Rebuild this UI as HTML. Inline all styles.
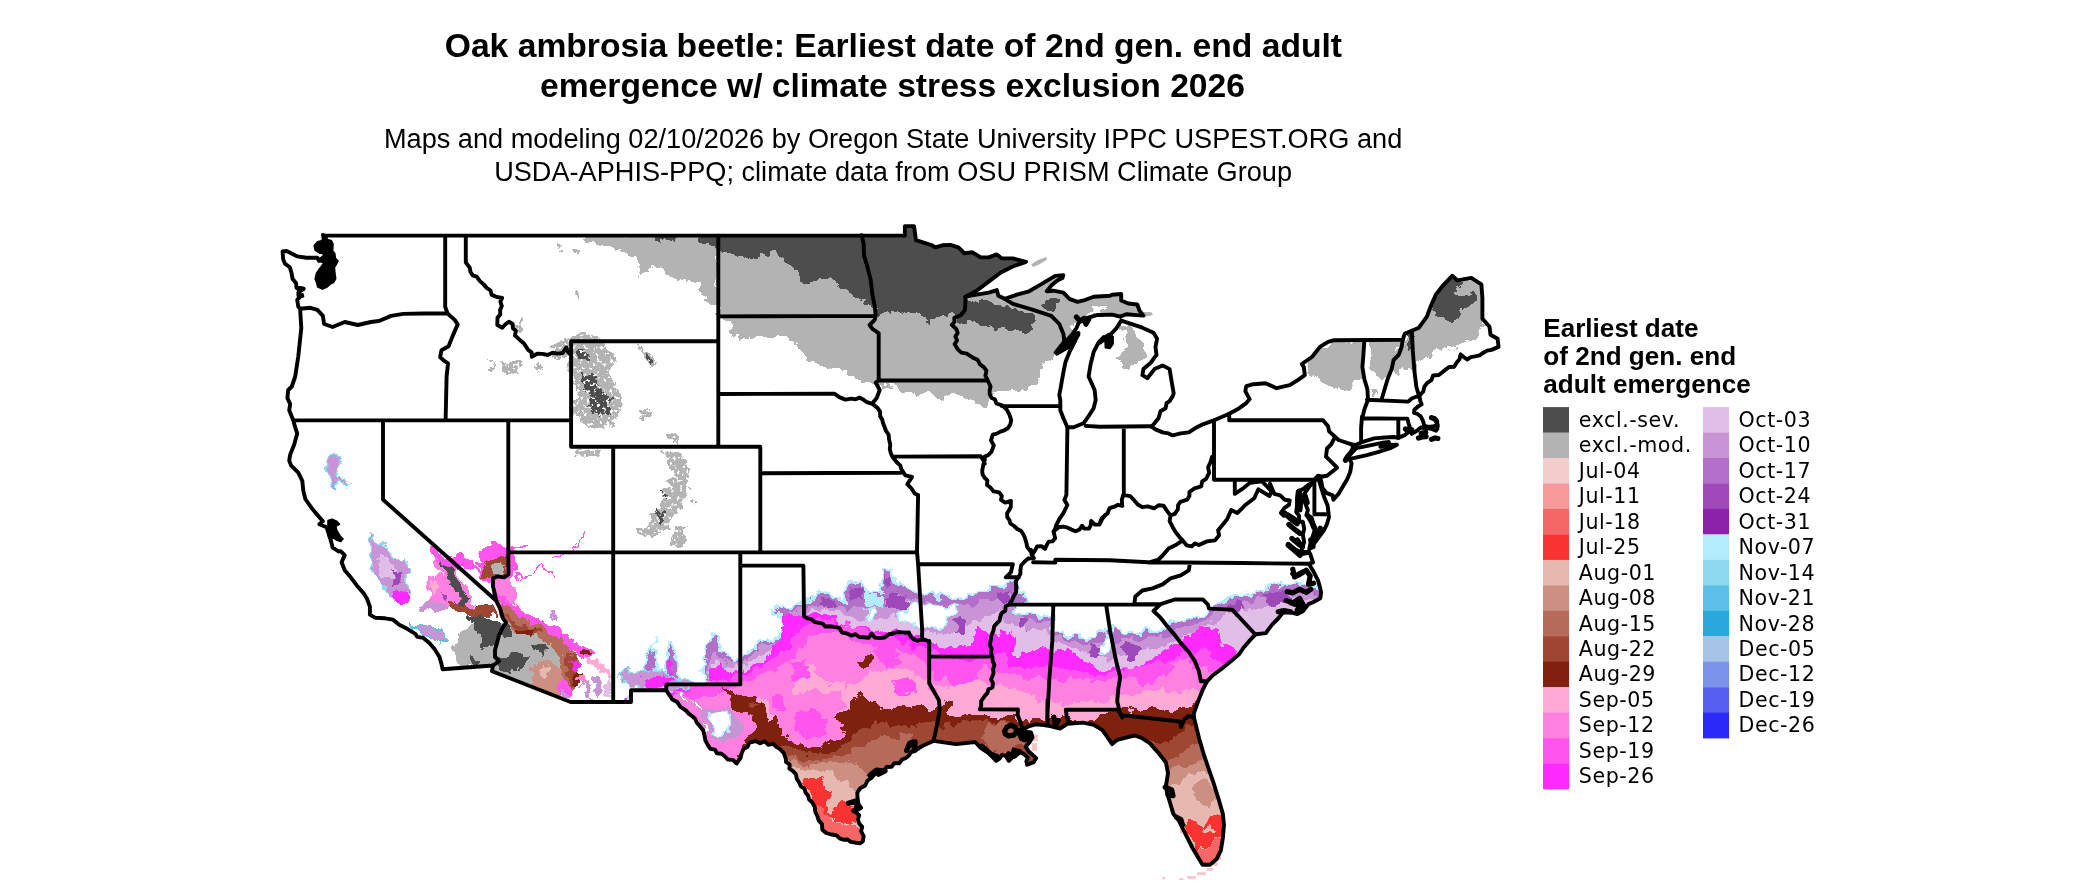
<!DOCTYPE html>
<html lang="en"><head><meta charset="utf-8"><title>Oak ambrosia beetle: Earliest date of 2nd gen. end adult emergence</title>
<style>
html,body{margin:0;padding:0;background:#fff;}
body{width:2100px;height:892px;overflow:hidden;position:relative;font-family:"Liberation Sans",Arial,sans-serif;color:#000;}
svg{position:absolute;left:0;top:0;display:block;}
.ti{font:bold 33.65px "Liberation Sans",Arial,sans-serif;text-anchor:middle;fill:#000;}
.su{font:27.15px "Liberation Sans",Arial,sans-serif;text-anchor:middle;fill:#000;}
.lt{font:bold 26.1px "Liberation Sans",Arial,sans-serif;fill:#000;}
.lb{font:20.6px "DejaVu Sans","Liberation Sans",sans-serif;fill:#000;letter-spacing:0.55px;}
.bd{fill:none;stroke:#000;stroke-width:3.9;stroke-linejoin:round;stroke-linecap:round;}
</style></head><body>
<svg width="2100" height="892" viewBox="0 0 2100 892">
<rect width="2100" height="892" fill="#fff"/>
<defs><clipPath id="us"><path d="M324.1,235.6 904.9,235.6 904.9,226.1 914.0,226.1 916.0,240.2 922.1,242.2 932.2,245.3 935.2,247.3 942.3,245.3 950.3,244.9 958.4,247.3 964.5,253.3 972.5,252.3 980.6,257.4 988.7,257.4 996.8,254.4 1001.8,258.4 1012.9,258.4 1026.0,261.8 1012.9,266.5 1000.8,272.5 988.7,281.6 976.6,290.7 965.5,296.7 976.6,294.7 988.7,292.7 996.8,290.1 998.4,295.7 1004.8,298.8 1016.9,294.7 1029.1,291.3 1037.1,286.6 1047.2,280.6 1055.3,275.9 1063.4,275.1 1062.4,278.0 1057.3,280.6 1051.3,285.6 1046.8,291.3 1053.3,290.7 1063.4,292.7 1069.4,298.8 1077.5,301.8 1085.6,299.8 1093.6,296.7 1110.0,295.7 1112.1,294.8 1121.2,294.0 1121.2,300.5 1128.3,303.5 1137.3,304.5 1139.4,310.5 1143.4,315.6 1126.2,314.2 1120.2,316.6 1112.1,314.6 1100.0,315.0 1097.7,314.9 1085.6,318.3 1079.5,321.0 1076.5,328.0 1072.4,334.1 1067.4,340.1 1064.4,341.1 1060.3,347.2 1056.3,352.2 1063.4,347.2 1071.4,340.1 1078.5,333.1 1074.5,342.1 1069.4,352.2 1065.4,362.3 1063.0,374.4 1060.9,386.5 1059.3,395.0 1060.3,400.1 1060.3,410.2 1063.4,418.3 1067.4,427.3 1073.5,427.3 1083.5,423.3 1088.6,416.2 1093.6,408.2 1095.7,400.1 1094.6,390.0 1088.6,376.5 1090.6,364.3 1093.6,352.2 1098.7,342.1 1103.7,337.1 1100.0,342.8 1104.0,339.8 1110.1,334.8 1116.1,328.7 1121.2,320.6 1130.3,323.7 1142.4,327.7 1153.5,332.7 1157.1,338.8 1155.5,346.9 1156.5,354.9 1150.5,363.0 1143.4,369.1 1142.4,375.1 1147.4,378.2 1154.5,369.1 1162.6,365.4 1169.6,369.1 1171.6,381.2 1173.7,393.3 1172.7,396.1 1169.6,401.1 1166.6,403.1 1165.6,408.2 1160.5,411.2 1158.5,418.3 1154.5,423.3 1151.5,426.7 1155.5,429.4 1162.6,432.4 1168.6,433.4 1172.7,435.4 1180.7,433.4 1188.8,432.4 1194.9,428.3 1202.9,424.3 1213.0,420.7 1221.1,417.2 1229.2,413.8 1239.3,408.2 1246.3,403.1 1249.7,399.1 1245.3,391.3 1246.3,386.2 1253.4,384.2 1265.5,383.2 1276.6,388.2 1289.7,385.2 1297.8,380.2 1304.8,375.1 1303.8,367.1 1301.8,364.0 1311.9,357.0 1320.0,346.9 1328.1,341.8 1334.1,340.2 1402.7,339.8 1404.7,333.8 1411.8,330.7 1418.9,327.7 1426.9,316.6 1431.0,305.5 1436.0,294.4 1443.1,285.3 1452.2,275.8 1457.2,280.3 1471.3,277.9 1481.4,284.3 1482.4,298.4 1482.4,318.6 1489.5,326.7 1490.5,334.8 1497.6,338.8 1498.6,346.9 1491.5,349.9 1487.2,350.6 1483.4,352.7 1479.6,355.3 1475.0,356.3 1470.8,357.1 1467.1,359.5 1464.0,357.2 1460.6,354.4 1459.5,359.3 1456.5,362.7 1454.1,366.9 1449.1,367.0 1443.3,371.4 1438.8,375.0 1433.1,375.5 1431.4,380.2 1427.0,383.2 1424.3,386.9 1423.3,391.5 1419.4,395.8 1419.4,396.2 1420.3,401.1 1421.6,404.3 1418.0,406.5 1414.4,409.7 1414.0,412.8 1417.1,413.7 1420.7,416.4 1423.0,420.9 1424.3,425.8 1428.8,427.0 1434.2,426.1 1436.9,424.3 1437.3,421.6 1435.1,418.6 1431.5,417.5 1435.2,419.5 1436.7,422.2 1437.8,424.9 1437.3,428.9 1436.0,430.7 1429.7,428.2 1425.2,428.7 1421.2,427.3 1418.0,429.8 1414.4,432.4 1411.7,433.9 1410.4,430.7 1409.1,427.6 1408.2,429.8 1406.8,433.4 1404.6,435.2 1402.8,435.9 1398.3,437.9 1393.8,437.0 1384.8,437.5 1374.1,438.4 1366.9,440.6 1361.1,442.4 1355.7,444.9 1351.6,444.4 1353.1,447.3 1350.2,453.1 1345.8,458.2 1349.4,458.9 1351.6,463.3 1350.2,472.1 1347.2,479.3 1342.9,486.6 1338.5,493.9 1333.4,499.7 1332.7,495.4 1326.8,493.2 1322.5,488.1 1321.0,480.1 1318.8,477.2 1319.5,482.3 1321.7,489.5 1324.6,498.3 1327.6,505.6 1328.3,511.4 1329.0,517.2 1326.8,524.5 1323.9,530.4 1319.5,536.2 1315.2,542.0 1311.5,547.8 1309.3,549.0 1310.8,542.0 1313.7,533.3 1315.2,527.4 1313.7,524.5 1311.5,517.2 1306.4,515.1 1307.9,510.0 1305.0,502.7 1304.2,493.9 1309.3,486.6 1313.7,482.0 1307.9,485.2 1303.5,488.8 1297.7,491.7 1297.0,498.3 1297.0,505.6 1296.2,512.1 1299.1,515.8 1299.1,521.6 1302.8,521.6 1304.2,528.9 1302.8,534.7 1304.2,542.0 1301.3,550.8 1305.0,552.2 1310.1,553.7 1313.0,562.4 1308.9,563.8 1313.9,572.3 1318.0,580.4 1320.0,587.4 1321.1,592.7 1320.3,598.3 1313.0,602.2 1308.5,604.1 1302.9,611.2 1297.3,614.0 1290.6,612.3 1282.7,612.9 1278.2,618.5 1272.6,624.1 1268.1,629.7 1265.9,633.1 1255.8,634.2 1249.3,640.9 1243.3,648.0 1239.3,654.0 1231.2,661.1 1221.1,669.2 1213.0,675.2 1207.0,681.3 1202.9,689.3 1198.9,699.4 1195.9,707.5 1193.8,713.6 1193.9,717.2 1196.0,725.8 1199.2,738.8 1203.6,753.8 1207.9,766.7 1213.2,781.8 1218.6,799.0 1222.9,814.1 1224.0,824.9 1222.9,837.8 1220.8,850.7 1216.5,859.3 1210.0,864.7 1202.5,864.7 1199.2,859.3 1192.8,848.5 1187.4,837.8 1182.0,827.0 1178.8,820.6 1173.4,814.1 1170.2,803.3 1167.0,792.6 1165.9,786.1 1168.0,773.2 1165.9,762.4 1158.3,752.7 1149.7,743.1 1141.1,737.7 1134.7,735.5 1126.0,737.7 1117.4,739.8 1112.1,744.1 1107.8,737.7 1102.4,730.1 1093.8,724.8 1083.0,722.6 1067.9,723.7 1060.0,728.5 1051.3,726.4 1043.9,725.1 1035.9,724.4 1028.5,726.4 1024.4,728.5 1023.1,730.5 1027.1,731.8 1031.1,732.5 1032.5,737.2 1029.8,741.9 1025.8,746.6 1028.5,751.3 1033.2,755.4 1036.2,758.1 1033.8,762.1 1027.1,764.8 1026.4,761.4 1027.8,757.4 1023.7,754.0 1017.7,750.7 1013.6,749.3 1013.0,752.7 1011.6,758.1 1008.9,760.8 1005.6,756.0 1002.2,754.7 999.5,758.7 996.2,760.8 992.1,756.7 988.1,752.7 984.0,750.0 980.0,747.3 975.3,742.0 956.0,744.1 933.4,740.9 921.7,746.3 918.3,748.5 915.1,751.1 911.1,752.0 909.0,755.5 905.8,758.0 901.8,759.8 899.3,763.3 894.3,763.2 891.6,766.8 886.6,767.0 883.4,771.6 878.4,771.5 874.5,774.3 871.5,777.9 867.6,780.5 865.1,785.5 860.3,788.2 857.3,792.7 857.5,797.8 858.3,803.1 855.5,807.5 855.4,811.8 859.2,815.2 857.9,819.5 859.2,823.5 862.2,826.9 861.1,831.4 863.6,835.9 862.9,841.2 860.3,843.2 855.5,842.7 850.7,841.9 847.5,839.5 843.5,839.7 840.0,838.6 836.3,835.3 831.3,834.5 826.2,833.0 822.3,829.7 822.0,824.1 818.7,820.4 817.3,816.0 815.3,811.9 814.7,806.7 812.1,802.2 809.1,799.5 808.0,795.5 805.5,792.5 804.5,788.6 800.8,786.3 799.3,782.7 796.8,778.9 795.9,774.3 792.8,770.9 789.4,768.6 789.7,764.4 786.1,762.2 785.7,758.3 783.8,753.1 780.1,749.1 776.3,746.9 773.4,743.8 768.4,744.8 764.7,741.3 760.1,743.3 755.9,741.2 749.3,742.7 747.5,746.9 743.5,749.1 741.6,753.5 740.5,758.0 736.6,763.5 733.0,759.9 727.8,759.5 724.8,756.3 721.4,753.8 716.9,753.2 714.9,749.6 710.4,748.9 708.2,745.6 705.5,740.8 704.4,735.4 703.2,730.2 699.7,725.9 696.9,722.8 695.0,718.7 691.8,715.8 688.7,713.6 686.3,710.9 683.4,708.7 680.3,706.8 677.2,701.9 672.3,699.5 666.1,690.2 631.0,690.2 631.0,702.0 570.6,702.0 492.0,671.2 493.0,665.5 442.6,669.2 441.5,664.1 439.5,657.1 434.5,649.0 429.4,642.9 423.4,637.9 417.3,636.9 415.3,633.8 407.2,628.8 399.2,624.8 393.1,619.7 385.0,618.3 374.9,617.7 369.9,614.7 369.9,606.6 366.9,598.5 363.8,593.5 356.8,585.4 350.7,577.3 344.7,570.3 341.6,562.2 344.7,555.1 340.6,551.1 338.6,551.5 332.6,547.4 330.5,539.3 326.5,527.2 319.4,524.2 322.9,521.2 318.4,516.1 312.4,509.1 305.3,499.0 303.3,490.9 302.3,480.8 298.3,472.7 291.2,465.7 289.2,460.6 290.2,454.6 294.2,444.5 297.2,433.4 295.2,427.3 293.2,420.3 289.2,410.2 290.2,404.1 287.4,398.1 288.2,390.0 291.8,386.5 295.2,376.5 298.3,356.3 301.3,328.0 300.3,311.9 300.3,308.8 298.3,306.8 297.2,299.8 300.3,296.7 298.3,292.7 303.7,288.7 296.5,287.8 296.1,283.3 292.5,278.8 291.6,273.4 289.8,267.2 284.9,263.6 283.1,259.1 282.6,251.5 286.7,251.0 297.4,256.4 306.4,257.7 317.2,257.7 318.9,260.9 323.9,256.8 325.2,252.8 319.8,251.9 316.3,249.7 315.4,246.1 318.0,242.9 322.5,241.6 323.9,239.3 323.0,234.9Z"/></clipPath>
<filter id="rag" x="0" y="0" width="100%" height="100%" filterUnits="userSpaceOnUse"><feTurbulence type="fractalNoise" baseFrequency="0.09" numOctaves="3" seed="7" result="n"/><feDisplacementMap in="SourceGraphic" in2="n" scale="14" xChannelSelector="R" yChannelSelector="G"/></filter>
<filter id="speck" x="0" y="0" width="100%" height="100%" filterUnits="userSpaceOnUse"><feTurbulence type="fractalNoise" baseFrequency="0.09" numOctaves="3" seed="7" result="n"/><feDisplacementMap in="SourceGraphic" in2="n" scale="14" xChannelSelector="R" yChannelSelector="G" result="d"/><feTurbulence type="fractalNoise" baseFrequency="0.3" numOctaves="2" seed="3" result="m"/><feColorMatrix in="m" type="matrix" values="0 0 0 0 0  0 0 0 0 0  0 0 0 0 0  0 0 0 10 -3.1" result="a"/><feComposite in="d" in2="a" operator="in"/></filter></defs>
<g id="raster" clip-path="url(#us)"><g filter="url(#rag)" shape-rendering="crispEdges">
<path d="M578.9,235.2 717.1,235.2 717.1,303.8 708.1,303.8 700.0,291.7 695.9,279.6 681.8,280.6 667.7,273.5 653.6,265.5 641.5,275.5 636.4,260.4 621.3,251.3 593.0,245.3Z" fill="#b3b3b3"/>
<path d="M653.6,236.2 673.7,236.2 672.7,243.3 661.6,241.2Z" fill="#4d4d4d"/>
<path d="M700.0,236.2 717.1,236.2 717.1,245.3 706.0,243.3Z" fill="#4d4d4d"/>
<path d="M718.3,227.1 1033.1,227.1 1033.1,265.5 1067.4,271.5 1110.0,291.7 1120.2,292.4 1140.4,302.5 1145.4,316.6 1120.2,317.6 1100.0,316.6 1091.6,311.9 1079.5,322.0 1063.4,342.1 1056.3,353.2 1045.2,360.3 1041.2,372.4 1037.1,382.5 1023.0,388.6 1002.8,392.6 992.7,395.0 990.7,396.1 988.7,405.1 976.6,404.1 968.5,398.1 952.4,396.1 942.3,400.1 932.2,394.0 912.0,393.0 899.9,390.0 891.8,390.6 879.7,382.5 875.7,386.5 861.5,382.5 843.4,372.4 827.2,368.4 807.1,358.3 799.0,348.2 786.9,338.1 756.6,338.1 731.4,336.1 730.4,319.9 718.3,315.9Z" fill="#b3b3b3"/>
<path d="M698.1,227.1 1033.1,227.1 1033.1,263.4 972.5,295.7 965.5,296.7 968.5,299.8 992.7,301.8 1012.9,307.8 1029.1,313.9 1035.1,319.9 1029.1,332.1 1004.8,332.1 988.7,328.0 972.5,324.0 958.4,322.0 952.4,314.9 942.3,317.9 928.1,321.0 922.1,315.9 903.9,313.9 889.8,310.9 877.7,313.9 872.6,303.8 859.5,297.7 843.4,289.7 831.3,279.6 819.2,279.6 805.0,285.6 800.0,275.5 792.9,267.5 782.8,259.4 774.8,252.3 768.7,255.4 750.5,258.4 730.4,253.3 720.3,249.3 714.2,245.3 702.1,243.3 698.1,239.2Z" fill="#4d4d4d"/>
<path d="M1045.2,299.8 1053.3,296.7 1060.3,299.8 1059.3,306.8 1053.3,311.9 1046.2,309.9 1042.2,305.8Z" fill="#4d4d4d"/>
<path d="M1089.5,306.0 1098.3,304.6 1109.9,305.3 1108.5,309.7 1102.7,311.9 1091.0,311.9Z" fill="#fff"/>
<path d="M1122.2,324.7 1132.3,326.7 1140.4,338.8 1146.4,350.9 1145.4,361.0 1136.3,363.0 1122.2,367.1 1120.2,354.9 1126.2,344.9 1124.2,334.8Z" fill="#b3b3b3"/>
<path d="M1311.9,357.0 1320.0,346.9 1334.1,341.2 1362.4,341.2 1362.4,375.1 1354.3,383.2 1350.3,390.3 1340.2,391.3 1328.1,385.2 1313.9,379.2 1307.9,369.1Z" fill="#b3b3b3"/>
<path d="M1369.4,341.2 1401.7,341.2 1398.7,354.9 1393.6,360.0 1391.6,369.1 1388.6,377.1 1378.5,377.1 1371.4,369.1Z" fill="#b3b3b3"/>
<path d="M1370.4,391.3 1375.5,391.3 1375.5,397.3 1370.4,397.3Z" fill="#b3b3b3"/>
<path d="M1402.7,339.8 1411.8,330.7 1413.2,350.9 1414.4,371.1 1406.8,367.1 1396.7,375.1 1390.6,371.1 1393.6,360.0 1398.7,354.9 1401.7,346.9Z" fill="#b3b3b3"/>
<path d="M1404.7,334.8 1411.8,331.1 1412.4,346.9 1404.7,348.9Z" fill="#4d4d4d"/>
<path d="M1411.8,330.7 1452.2,274.2 1483.5,280.3 1483.5,318.6 1489.5,326.7 1483.5,330.7 1473.4,338.8 1453.2,346.9 1431.0,354.9 1414.8,363.0 1413.2,350.9Z" fill="#b3b3b3"/>
<path d="M1433.0,310.5 1439.1,290.4 1452.2,276.2 1457.2,280.3 1463.3,282.3 1455.2,290.4 1461.3,296.4 1477.4,292.4 1475.4,302.5 1461.3,308.5 1457.2,318.6 1449.1,322.7 1443.1,316.6 1435.0,318.6Z" fill="#4d4d4d"/>
<path d="M640.0,694.2 640.0,675.3 645.4,664.6 649.4,651.1 652.8,643.1 655.5,651.1 656.8,667.3 661.5,673.3 666.2,663.2 667.6,651.1 670.7,644.4 675.7,656.5 679.0,670.0 679.7,682.8 703.2,682.8 703.9,660.5 705.9,643.1 713.3,632.3 719.4,645.7 726.1,656.5 732.8,662.6 740.0,656.5 751.7,651.1 761.1,640.4 769.2,638.3 779.9,636.3 782.6,626.9 779.9,617.5 773.2,608.1 785.3,608.1 798.8,604.7 802.8,602.7 811.1,598.5 819.2,590.5 827.2,593.5 835.3,598.5 845.4,600.5 847.4,582.4 861.5,582.4 863.6,590.5 879.7,594.5 883.7,570.3 891.8,572.3 893.8,580.4 901.9,584.4 912.0,592.5 918.1,593.5 932.2,594.5 948.3,598.5 958.4,598.5 972.5,595.5 982.6,592.5 992.7,588.4 1004.8,584.4 1015.9,581.4 1018.6,592.9 1026.7,594.9 1028.0,598.9 1022.6,602.3 1014.6,609.0 1017.2,614.4 1028.0,615.7 1041.5,614.4 1052.2,614.4 1054.9,630.5 1060.3,634.6 1071.1,635.9 1081.8,633.2 1089.9,637.3 1098.0,630.5 1102.0,629.2 1108.7,634.6 1111.4,626.5 1116.8,629.2 1122.2,633.2 1128.9,633.2 1142.4,631.2 1160.0,631.9 1164.6,628.8 1172.7,622.7 1188.8,618.7 1202.9,614.7 1209.0,608.6 1221.1,602.6 1241.3,594.5 1261.5,590.5 1281.6,584.4 1301.8,583.4 1321.0,587.4 1362.4,587.4 1420.0,600.0 1420.0,930.0 560.0,930.0 560.0,740.0Z" fill="#b36fc9" stroke="#b3ecfc" stroke-width="2.4"/>
<path d="M640.0,694.2 640.0,686.1 704.6,686.1 710.0,656.5 715.3,653.8 726.1,663.2 740.0,663.2 751.7,656.5 761.1,645.7 771.9,643.1 785.3,636.3 786.0,620.2 788.0,612.1 802.8,608.1 811.1,604.6 831.3,604.6 847.4,608.6 863.6,606.6 883.7,604.6 891.8,592.5 912.0,600.5 932.2,602.6 952.4,606.6 972.5,602.6 992.7,598.5 1012.9,592.5 1014.6,614.4 1028.0,621.1 1052.2,621.1 1054.9,637.3 1071.1,641.3 1089.9,644.0 1108.7,642.7 1122.2,640.0 1142.4,638.6 1160.0,638.6 1166.6,636.9 1180.7,628.8 1204.9,620.7 1221.1,610.6 1241.3,602.6 1261.5,598.5 1281.6,592.5 1301.8,590.5 1321.0,593.5 1362.4,593.5 1420.0,600.0 1420.0,930.0 560.0,930.0 560.0,740.0Z" fill="#c994d6"/>
<path d="M640.0,694.2 640.0,688.8 705.9,687.5 711.3,663.2 715.3,660.5 726.1,667.3 740.0,667.3 751.7,660.5 761.1,652.5 773.2,647.1 788.0,639.0 789.4,621.5 794.7,614.8 802.8,612.1 811.1,609.6 831.3,610.6 851.5,618.7 871.6,620.7 891.8,616.7 912.0,620.7 924.1,630.8 942.3,634.9 962.5,630.8 976.6,620.7 988.7,614.7 1004.8,608.6 1001.1,614.4 1009.2,623.8 1028.0,627.9 1048.2,629.2 1054.9,642.7 1068.4,646.7 1081.8,652.1 1095.3,656.1 1108.7,658.8 1122.2,656.1 1142.4,650.7 1160.0,646.7 1166.6,644.9 1184.8,634.9 1204.9,624.8 1221.1,618.7 1241.3,610.6 1261.5,606.6 1281.6,600.5 1301.8,598.5 1321.0,598.5 1362.4,598.5 1420.0,600.0 1420.0,930.0 560.0,930.0 560.0,740.0Z" fill="#e1bee7"/>
<path d="M897.5,615.7 901.5,610.4 913.6,606.3 933.8,605.0 955.3,606.3 958.0,610.4 950.0,615.7 947.3,623.8 939.2,630.5 933.8,629.2 924.4,625.2 910.9,623.8 900.2,621.1Z" fill="#fff" stroke="#b3ecfc" stroke-width="1.8"/>
<path d="M1098.0,649.4 1103.4,642.7 1108.7,637.3 1112.1,645.3 1108.7,653.4 1100.7,654.1Z" fill="#fff" stroke="#b3ecfc" stroke-width="1.8"/>
<path d="M867.6,608.6 874.7,609.6 875.7,618.7 868.6,619.7Z" fill="#fff" stroke="#b3ecfc" stroke-width="2"/>
<path d="M859.5,590.5 871.6,594.5 881.7,598.5 883.7,604.6 871.6,606.6 863.6,600.5Z" fill="#b3ecfc"/>
<path d="M901.9,600.5 910.0,602.6 908.0,609.6 901.9,608.6Z" fill="#b3ecfc"/>
<path d="M819.2,598.5 831.3,600.5 835.3,608.6 823.2,606.6Z" fill="#9e48b9"/>
<path d="M849.4,588.4 861.5,588.4 859.5,600.5 851.5,598.5Z" fill="#9e48b9"/>
<path d="M883.7,576.3 891.8,577.3 891.8,586.4 884.8,585.4Z" fill="#9e48b9"/>
<path d="M891.8,598.5 903.9,596.5 910.0,606.6 895.9,608.6Z" fill="#9e48b9"/>
<path d="M888.1,592.9 897.5,591.5 900.2,605.0 890.8,607.7 884.0,602.3Z" fill="#9e48b9"/>
<path d="M955.3,618.4 966.1,621.1 963.4,634.6 955.3,631.9Z" fill="#9e48b9"/>
<path d="M995.7,594.2 1009.2,588.8 1011.9,600.9 1001.1,605.0Z" fill="#9e48b9"/>
<path d="M1017.2,618.4 1028.0,619.8 1026.7,627.9 1018.6,626.5Z" fill="#9e48b9"/>
<path d="M1089.9,645.3 1100.7,648.0 1098.0,657.5 1091.2,656.1Z" fill="#9e48b9"/>
<path d="M1122.2,645.3 1135.7,646.7 1133.0,656.1 1123.5,654.8Z" fill="#9e48b9"/>
<path d="M1124.2,644.9 1140.4,642.9 1138.3,657.1 1126.2,659.1Z" fill="#9e48b9"/>
<path d="M1261.5,594.5 1281.6,589.4 1293.7,600.5 1273.6,604.6Z" fill="#9e48b9"/>
<path d="M1225.1,606.6 1241.3,600.5 1245.3,608.6 1231.2,612.7Z" fill="#9e48b9"/>
<path d="M640.0,694.2 640.0,692.8 707.3,686.1 710.0,670.0 720.7,664.6 731.5,672.7 740.0,670.0 747.6,667.3 761.1,660.5 771.9,653.8 774.6,644.4 781.3,637.7 782.6,626.9 781.3,617.5 788.0,614.8 798.8,612.1 808.2,612.1 828.4,616.1 841.8,621.5 855.3,626.9 871.4,626.9 882.2,630.9 880.0,629.2 893.5,633.2 906.9,633.2 920.4,635.9 924.4,638.6 931.1,641.3 940.5,646.7 950.0,648.0 960.7,646.7 971.5,642.7 974.2,629.2 979.6,627.9 986.3,633.2 990.3,637.3 994.4,634.6 1001.1,631.9 1011.9,633.2 1014.6,645.3 1011.9,656.1 1021.3,660.2 1030.7,650.7 1041.5,646.7 1048.2,650.7 1054.9,650.7 1068.4,650.7 1079.1,657.5 1089.9,664.2 1100.7,668.2 1108.7,669.6 1119.5,666.9 1128.9,669.6 1142.4,664.2 1160.0,656.1 1160.5,653.0 1172.7,647.0 1180.7,640.9 1186.8,636.9 1196.9,626.8 1207.0,625.8 1217.1,626.8 1219.1,636.9 1221.1,644.9 1231.2,649.0 1239.3,653.0 1261.5,653.0 1300.0,700.0 1300.0,930.0 560.0,930.0 560.0,740.0Z" fill="#ff2aff"/>
<path d="M560.0,740.0 640.0,705.0 745.0,672.0 770.0,662.0 790.0,648.0 800.0,630.0 815.0,620.0 840.0,622.0 870.0,632.0 900.0,642.0 920.0,648.0 940.0,655.0 960.0,660.0 985.0,660.0 992.0,652.0 1002.0,652.0 1015.0,664.0 1030.0,668.0 1050.0,666.0 1070.0,670.0 1100.0,674.0 1130.0,670.0 1160.0,664.0 1180.0,655.0 1200.0,650.0 1215.0,658.0 1232.0,666.0 1250.0,690.0 1300.0,690.0 1300.0,930.0 560.0,930.0Z" fill="#ff55ee"/>
<path d="M560.0,760.0 700.0,700.0 752.0,680.0 775.0,670.0 795.0,655.0 810.0,635.0 835.0,632.0 860.0,642.0 890.0,650.0 915.0,655.0 930.0,665.0 935.0,680.0 960.0,672.0 985.0,668.0 1000.0,672.0 1020.0,677.0 1045.0,679.0 1070.0,681.0 1100.0,681.0 1130.0,677.0 1160.0,673.0 1185.0,668.0 1205.0,666.0 1222.0,684.0 1235.0,712.0 1300.0,712.0 1300.0,930.0 560.0,930.0Z" fill="#ff80e0"/>
<path d="M560.0,780.0 720.0,720.0 760.0,700.0 790.0,690.0 805.0,665.0 830.0,658.0 850.0,668.0 846.0,690.0 870.0,672.0 900.0,668.0 925.0,680.0 935.0,690.0 950.0,684.0 990.0,682.0 1020.0,692.0 1045.0,700.0 1060.0,702.0 1100.0,701.0 1120.0,697.0 1140.0,693.0 1170.0,691.0 1195.0,690.0 1210.0,706.0 1225.0,730.0 1300.0,730.0 1300.0,930.0 560.0,930.0Z" fill="#ffaad4"/>
<path d="M760.6,677.2 780.8,675.2 784.9,689.3 766.7,693.4Z" fill="#ff80e0"/>
<path d="M871.6,649.0 891.8,644.9 903.9,661.1 883.7,669.2Z" fill="#ff55ee"/>
<path d="M811.1,653.0 851.5,651.0 855.5,679.3 831.3,685.3 815.1,673.2Z" fill="#ff80e0"/>
<path d="M790.9,661.1 807.1,659.1 811.1,677.2 794.9,681.3Z" fill="#ff55ee"/>
<path d="M942.3,669.2 972.5,665.1 980.6,681.3 952.4,685.3Z" fill="#ff55ee"/>
<path d="M1004.8,653.0 1033.1,655.0 1031.1,669.2 1008.9,667.1Z" fill="#ff2aff"/>
<path d="M1063.4,681.3 1093.6,677.2 1101.7,693.4 1073.5,697.4Z" fill="#ff80e0"/>
<path d="M1130.3,669.2 1160.5,661.1 1166.6,677.2 1140.4,685.3Z" fill="#ff55ee"/>
<path d="M1170.6,661.1 1190.8,659.1 1194.9,677.2 1176.7,681.3Z" fill="#ff80e0"/>
<path d="M891.8,681.3 912.0,679.3 916.0,693.4 895.9,695.4Z" fill="#ff55ee"/>
<path d="M739.8,756.0 743.0,745.2 747.3,736.6 754.8,730.1 753.8,715.1 732.2,708.6 727.9,700.0 727.5,696.9 720.7,686.1 734.2,692.8 754.4,696.2 765.1,707.6 768.8,720.0 775.3,717.2 788.2,736.6 803.3,746.3 818.3,747.4 837.7,740.9 846.3,730.1 835.6,717.2 848.5,708.6 847.4,711.5 855.5,699.4 861.5,689.3 867.6,699.4 881.7,707.5 901.9,707.5 922.1,705.5 930.2,711.5 940.3,707.5 944.3,699.4 952.4,701.5 949.5,717.2 964.6,715.1 979.7,712.9 996.9,717.2 1011.9,715.1 1020.6,721.5 1033.5,717.2 1047.5,721.5 1057.2,715.1 1067.9,719.4 1089.5,721.5 1106.7,712.9 1117.4,708.6 1123.9,706.5 1136.8,712.9 1154.0,706.5 1169.1,710.8 1179.9,708.6 1190.6,706.5 1198.2,700.0 1222.9,700.0 1300.0,930.0 560.0,930.0 560.0,780.0Z" fill="#7f2010"/>
<path d="M856.6,660.5 867.4,655.2 874.1,661.9 866.0,667.3Z" fill="#7f2010"/>
<path d="M747.6,702.3 755.7,700.9 759.8,707.6 751.7,709.0Z" fill="#9e4632"/>
<path d="M775.3,746.3 788.2,747.4 803.3,753.8 818.3,753.8 837.7,749.5 850.6,738.8 861.4,728.0 878.6,721.5 895.8,723.7 913.1,725.8 926.0,721.5 935.7,719.4 934.4,719.4 943.1,725.8 964.6,721.5 986.1,719.4 1003.3,721.5 1020.6,725.8 1029.2,732.3 1037.8,743.1 1093.8,751.7 1136.8,749.5 1147.6,743.1 1162.6,743.1 1179.9,734.4 1188.5,723.7 1197.1,725.8 1222.9,725.8 1300.0,930.0 560.0,930.0 700.0,800.0Z" fill="#9e4632"/>
<path d="M781.7,751.7 796.8,760.3 818.3,759.2 839.9,756.0 857.1,749.5 872.2,740.9 887.2,736.6 904.5,737.7 913.1,743.1 917.4,751.7 926.0,786.1 1136.8,786.1 1163.7,761.4 1175.6,758.1 1186.3,749.5 1197.1,743.1 1201.4,746.3 1222.9,746.3 1300.0,930.0 560.0,930.0 700.0,800.0Z" fill="#b56a5a"/>
<path d="M986.1,723.7 1001.2,721.5 1016.3,728.0 1022.7,743.1 1011.9,753.8 1001.2,758.1 990.4,751.7 984.0,736.6Z" fill="#b56a5a"/>
<path d="M900.0,732.3 912.9,734.4 910.8,756.0 900.0,764.6Z" fill="#b56a5a"/>
<path d="M788.2,762.4 807.6,764.6 829.1,762.4 848.5,762.4 861.4,768.9 870.0,777.5 882.9,781.8 926.0,807.6 1136.8,796.9 1168.0,773.2 1177.7,764.6 1188.5,766.7 1199.2,760.3 1205.7,762.4 1222.9,762.4 1300.0,930.0 560.0,930.0 700.0,800.0Z" fill="#cc9083"/>
<path d="M794.7,768.9 814.0,768.9 829.1,772.1 846.3,781.8 854.9,792.6 858.2,796.9 882.9,803.3 926.0,820.6 1136.8,807.6 1167.0,786.1 1179.9,779.7 1188.5,773.2 1201.4,771.0 1210.0,773.2 1222.9,773.2 1300.0,930.0 560.0,930.0 700.0,800.0Z" fill="#e6b8b0"/>
<path d="M1194.9,784.0 1210.0,781.8 1217.5,796.9 1210.0,807.6 1197.1,803.3Z" fill="#cc9083"/>
<path d="M802.2,782.9 811.9,777.5 821.6,775.3 823.7,782.9 829.1,794.7 825.9,804.4 831.3,811.9 842.0,802.3 851.7,801.2 855.4,811.9 857.1,821.6 848.5,823.1 833.4,821.6 827.0,811.9 818.3,807.6 815.1,803.3 809.7,794.7Z" fill="#f93232"/>
<path d="M815.1,805.5 827.0,811.9 832.3,822.3 847.4,823.8 857.1,822.7 861.4,833.5 865.7,844.2 850.6,844.2 831.3,835.6 820.5,829.2 816.6,818.4Z" fill="#f56666"/>
<path d="M1182.0,827.0 1186.3,820.6 1201.4,824.9 1210.0,817.3 1221.9,813.0 1225.1,824.9 1224.0,837.8 1216.5,837.8 1210.0,846.4 1199.2,846.4 1190.6,837.8Z" fill="#f93232"/>
<path d="M1194.9,846.4 1210.0,846.8 1216.5,838.9 1225.1,837.8 1221.9,850.7 1217.5,860.4 1210.0,865.8 1201.4,865.8 1198.2,859.3Z" fill="#f56666"/>
<path d="M1202.5,827.0 1210.0,823.8 1213.2,831.3 1205.7,833.5Z" fill="#e6b8b0"/>
<path d="M764.5,691.4 775.3,717.2 788.2,736.6 803.3,746.3 818.3,747.4 837.7,740.9 846.3,730.1 835.6,717.2 844.2,706.5 839.9,691.4Z" fill="#ff80e0"/>
<path d="M792.5,712.9 814.0,708.6 829.1,723.7 822.6,736.6 805.4,738.8 794.7,728.0Z" fill="#ff55ee"/>
<path d="M771.0,695.7 783.9,697.8 786.0,712.9 777.4,710.8Z" fill="#ff55ee"/>
<path d="M667.6,663.2 670.3,659.2 672.3,675.3 668.9,680.7Z" fill="#ff2aff"/>
<path d="M642.7,680.7 653.5,675.3 661.5,680.7 661.5,687.5 642.7,687.5Z" fill="#ff2aff"/>
<path d="M667.6,695.7 727.9,697.8 732.2,708.6 753.8,715.1 754.8,730.1 747.3,736.6 743.0,745.2 739.8,756.0 736.5,766.7 723.6,762.4 710.7,751.7 702.1,736.6 695.6,723.7 684.9,712.9 671.9,704.3Z" fill="#ff80e0"/>
<path d="M702.1,708.6 727.9,706.5 738.7,721.5 743.0,732.3 730.1,743.1 715.0,740.9 706.4,728.0Z" fill="#c994d6"/>
<path d="M727.9,738.8 743.0,736.6 745.1,751.7 736.5,762.4 723.6,753.8Z" fill="#ff80e0"/>
<path d="M689.2,696.9 697.2,700.9 702.3,710.0 695.2,707.4Z" fill="#fff" stroke="#c994d6" stroke-width="1.5"/>
<path d="M673.0,690.8 681.1,694.5 689.2,704.9 682.7,702.9Z" fill="#fff" stroke="#c994d6" stroke-width="1.5"/>
<path d="M699.3,721.1 705.3,729.2 707.3,741.3 701.3,733.2Z" fill="#fff" stroke="#c994d6" stroke-width="1.5"/>
<path d="M710.7,715.1 723.6,712.9 730.1,725.8 725.8,735.5 712.9,734.4Z" fill="#fff" stroke="#b3ecfc" stroke-width="2"/>
<path d="M479.9,548.6 498.1,543.6 513.2,548.6 515.2,564.8 511.2,577.9 502.1,581.9 490.0,581.9 478.9,575.9 477.9,560.7Z" fill="#ff55ee"/>
<path d="M447.6,554.7 463.7,556.7 475.9,564.8 479.9,570.8 469.8,569.8 457.7,563.8 449.6,560.3Z" fill="#ff55ee"/>
<path d="M433.5,551.6 445.6,556.7 457.7,574.9 469.8,593.0 473.8,606.1 463.7,613.2 451.6,601.1 443.6,580.9 435.5,565.8Z" fill="#ff80e0"/>
<path d="M427.4,578.9 437.5,574.9 447.6,580.9 459.7,593.0 457.7,605.1 447.6,609.2 435.5,609.2 423.4,605.1 429.4,593.0Z" fill="#ff80e0"/>
<path d="M429.4,580.9 437.5,578.9 441.5,589.0 431.5,593.0Z" fill="#ffaad4"/>
<path d="M492.0,580.9 510.2,580.9 515.2,593.0 511.2,605.1 519.2,617.2 506.1,625.3 498.1,609.2 494.0,597.1Z" fill="#ff80e0"/>
<path d="M498.3,594.4 510.0,600.2 524.5,613.3 539.1,619.9 553.7,625.7 568.3,637.4 579.9,643.9 593.0,652.7 587.2,660.0 577.0,654.1 565.3,645.4 552.2,633.7 536.2,626.4 521.6,620.6 508.5,607.5 498.3,601.7Z" fill="#ff55ee"/>
<path d="M498.3,600.2 508.5,606.0 521.6,619.1 534.7,625.0 550.8,632.3 563.9,643.9 575.5,654.1 579.9,665.8 578.5,680.4 571.2,689.1 556.6,690.6 556.6,683.3 563.9,671.6 562.4,658.5 553.7,646.8 542.0,638.1 527.4,633.7 515.8,633.7 505.6,623.5 501.2,613.3Z" fill="#b56a5a"/>
<path d="M505.6,611.9 515.8,620.6 530.4,626.4 542.0,632.3 536.2,636.6 521.6,632.3 510.0,625.0Z" fill="#9e4632"/>
<path d="M565.3,651.2 574.1,655.6 578.5,668.7 575.5,683.3 568.3,686.2 566.8,671.6Z" fill="#9e4632"/>
<path d="M514.2,569.8 522.3,578.9 532.4,572.8 538.4,564.8 552.5,572.8 554.6,578.9 554.6,578.9 552.5,572.8 538.4,564.8 532.4,572.8 522.3,578.9 514.2,569.8Z" fill="none" stroke="#ff55ee" stroke-width="1.6"/>
<path d="M556.6,558.7 568.7,550.6 578.8,544.6 584.8,528.4 584.8,528.4 578.8,544.6 568.7,550.6 556.6,558.7Z" fill="none" stroke="#ff55ee" stroke-width="1.6"/>
<path d="M510.2,547.6 528.3,545.6 528.3,545.6 510.2,547.6Z" fill="none" stroke="#ff55ee" stroke-width="1.6"/>
<path d="M496.8,623.5 505.6,623.5 515.8,633.7 527.4,633.7 542.0,638.1 553.7,646.8 562.4,658.5 563.9,671.6 556.6,683.3 550.8,661.4 542.0,658.5 533.3,662.9 531.8,671.6 534.7,694.9 521.6,689.1 491.0,673.1 495.4,660.0 492.5,648.3 498.3,633.7Z" fill="#b3b3b3"/>
<path d="M456.0,633.7 466.2,627.9 477.9,623.5 496.8,623.5 498.3,633.7 492.5,648.3 495.4,660.0 491.0,668.7 458.9,665.8 455.3,651.2Z" fill="#b3b3b3"/>
<path d="M449.6,600.5 461.7,598.5 471.8,606.6 490.0,606.6 498.1,614.7 481.9,616.7 463.7,614.7 451.6,608.6Z" fill="#9e4632"/>
<path d="M479.9,566.2 492.0,560.2 506.1,554.1 506.1,574.3 492.0,578.3 481.9,576.3Z" fill="#9e4632"/>
<path d="M492.0,566.2 504.1,562.2 504.1,574.3 494.0,574.3Z" fill="#b3b3b3"/>
<path d="M515.8,630.8 527.4,626.4 534.7,629.3 530.4,635.2 518.7,635.2Z" fill="#7f2010"/>
<path d="M579.9,648.3 587.2,651.2 588.7,654.9 582.1,654.1Z" fill="#7f2010"/>
<path d="M571.2,676.0 578.5,671.6 578.5,683.3 572.6,686.2Z" fill="#7f2010"/>
<path d="M437.5,556.1 445.6,560.2 451.6,570.3 461.7,586.4 469.8,600.5 463.7,608.6 455.7,592.5 447.6,576.3 439.5,564.2Z" fill="#4d4d4d"/>
<path d="M465.8,616.7 481.9,614.7 498.1,620.7 502.1,628.8 498.1,636.9 492.0,644.9 483.9,650.0 479.9,640.9 475.9,628.8Z" fill="#4d4d4d"/>
<path d="M498.1,657.1 512.2,653.0 528.3,655.0 522.3,669.2 508.1,671.2 498.1,669.2Z" fill="#4d4d4d"/>
<path d="M530.3,647.0 542.5,642.9 552.5,649.0 544.5,655.0 534.4,653.0Z" fill="#4d4d4d"/>
<path d="M500.1,626.8 510.2,628.8 512.2,634.9 506.1,640.9 500.1,636.9Z" fill="#4d4d4d"/>
<path d="M469.8,659.1 477.9,659.1 477.9,663.5 469.8,663.5Z" fill="#4d4d4d"/>
<path d="M533.3,662.9 542.0,658.5 550.8,661.4 563.9,671.6 562.4,684.7 558.0,700.8 542.0,697.8 533.3,689.1 531.8,671.6Z" fill="#cc9083"/>
<path d="M539.1,667.2 547.8,665.8 550.8,677.4 542.0,680.4Z" fill="#e6b8b0"/>
<path d="M585.7,655.6 594.5,658.5 603.2,665.8 610.5,674.5 610.5,678.9 600.3,671.6 591.6,662.9Z" fill="#ffaad4"/>
<path d="M571.2,660.0 575.5,658.5 579.9,668.7 577.0,671.6Z" fill="#ff2aff"/>
<path d="M594.5,676.0 600.3,677.4 603.2,692.0 597.4,697.8 594.5,689.1Z" fill="#c994d6"/>
<path d="M559.5,683.3 568.3,681.8 571.2,692.0 566.8,697.8 558.0,694.9Z" fill="#ff55ee"/>
<path d="M561.0,692.0 568.3,692.0 566.8,698.6 559.5,697.8Z" fill="#c994d6"/>
<path d="M584.3,683.3 590.1,683.3 591.6,697.8 585.7,698.6Z" fill="#c994d6"/>
<path d="M604.7,680.4 610.5,677.4 611.2,697.8 606.1,698.6Z" fill="#e1bee7"/>
<path d="M575.5,677.4 581.4,676.0 584.3,686.2 578.5,689.1Z" fill="#ff80e0"/>
<path d="M616.1,671.2 625.2,669.2 639.3,671.2 653.5,668.2 665.6,671.2 673.6,679.3 690.0,681.3 690.0,688.3 664.6,688.7 633.3,687.7 625.2,681.3Z" fill="#c994d6" stroke="#8ed8f0" stroke-width="1.5"/>
<path d="M643.4,679.3 661.5,675.2 673.6,682.3 665.6,687.7 647.4,687.7Z" fill="#ff2aff"/>
<path d="M548.5,608.6 556.6,608.6 555.6,620.7 550.5,614.7Z" fill="#c994d6"/>
<path d="M327.5,456.6 332.6,453.6 338.6,456.6 340.6,466.7 338.6,474.8 350.7,483.8 347.7,485.9 338.6,478.8 336.6,486.9 332.6,487.9 328.5,478.8 326.9,466.7Z" fill="#c994d6" stroke="#8ed8f0" stroke-width="1.5"/>
<path d="M332.6,483.2 336.6,483.2 336.2,488.9 332.6,488.5Z" fill="#5cc0e8"/>
<path d="M370.9,536.0 379.0,546.1 383.0,542.0 391.1,552.1 407.2,566.2 408.2,586.4 409.3,600.5 395.1,603.6 383.0,586.4 372.9,570.3 368.9,557.2Z" fill="#c994d6" stroke="#8ed8f0" stroke-width="1.5"/>
<path d="M374.9,558.2 387.1,556.1 399.2,568.3 395.1,580.4 383.0,574.3Z" fill="#e1bee7"/>
<path d="M391.1,570.3 401.2,572.3 403.2,584.4 395.1,588.4Z" fill="#9e48b9"/>
<path d="M392.1,592.5 401.2,589.4 409.3,594.5 408.2,603.6 395.1,604.2Z" fill="#ff2aff"/>
<path d="M415.3,608.6 427.4,600.5 443.6,604.6 447.6,609.6 431.5,610.6 421.4,613.7Z" fill="#c994d6"/>
<path d="M441.5,594.5 449.6,595.5 447.6,600.5 441.5,599.5Z" fill="#9e48b9"/>
<path d="M409.3,622.7 423.4,628.8 441.5,630.8 448.6,639.9 437.5,641.9 423.4,634.9Z" fill="#c994d6" stroke="#5cc0e8" stroke-width="1.5"/>
<path d="M427.4,545.4 437.5,551.5 451.6,561.5 463.7,570.0 451.6,570.0 435.5,559.5Z" fill="#ff55ee"/>
</g>
<g filter="url(#speck)" shape-rendering="crispEdges">
<path d="M560.0,345.0 568.0,337.0 585.0,334.0 602.0,338.0 613.0,356.0 611.0,375.0 620.0,392.0 622.0,408.0 612.0,424.0 600.0,427.0 585.0,428.0 575.0,410.0 577.0,395.0 570.0,370.0Z" fill="#b3b3b3"/>
<path d="M575.0,350.0 583.0,347.0 590.0,355.0 586.0,362.0 578.0,360.0Z" fill="#4d4d4d"/>
<path d="M583.0,372.0 596.0,376.0 601.0,392.0 612.0,400.0 611.0,416.0 598.0,418.0 588.0,410.0 590.0,396.0 584.0,390.0Z" fill="#4d4d4d"/>
<path d="M572.7,450.5 584.8,448.9 603.0,450.5 601.0,455.6 584.8,457.0 574.7,455.0Z" fill="#b3b3b3"/>
<path d="M663.5,449.5 675.7,448.9 683.7,458.6 688.8,470.7 688.8,486.9 683.7,503.0 677.7,513.1 669.6,521.2 661.5,531.3 651.4,538.3 639.3,536.3 635.3,530.3 647.4,524.2 656.5,511.1 660.5,499.0 666.6,486.9 672.6,470.7 665.6,458.6Z" fill="#b3b3b3"/>
<path d="M671.6,531.3 683.7,527.2 686.8,539.3 681.7,549.4 673.6,545.4Z" fill="#b3b3b3"/>
<path d="M663.5,490.9 668.6,491.9 667.6,499.0 663.5,498.0Z" fill="#4d4d4d"/>
<path d="M655.5,507.1 665.6,511.1 661.5,521.2 656.5,515.1Z" fill="#4d4d4d"/>
<path d="M639.3,344.2 647.4,350.2 655.5,358.3 654.5,365.4 647.4,360.3 641.3,352.2Z" fill="#b3b3b3"/>
<path d="M647.4,352.2 653.5,359.3 651.4,362.3 647.8,357.3Z" fill="#4d4d4d"/>
<path d="M515.2,319.9 522.3,318.9 521.3,334.1 516.2,332.1Z" fill="#b3b3b3"/>
<path d="M483.9,356.3 496.0,368.4 492.0,370.4Z" fill="#b3b3b3"/>
<path d="M502.1,360.3 522.3,364.3 518.2,374.4 504.1,370.4Z" fill="#b3b3b3"/>
<path d="M534.4,366.4 540.4,365.4 536.4,374.4Z" fill="#b3b3b3"/>
<path d="M548.5,344.2 562.6,342.1 566.7,356.3 552.5,358.3Z" fill="#b3b3b3"/>
<path d="M558.6,241.2 563.6,242.2 562.6,248.3Z" fill="#b3b3b3"/>
<path d="M570.7,247.3 581.8,252.3 576.8,255.4Z" fill="#b3b3b3"/>
<path d="M571.7,289.7 580.8,290.7 579.8,297.7 572.7,295.7Z" fill="#b3b3b3"/>
<path d="M690.0,500.0 697.1,501.0 696.1,505.0 690.0,504.0Z" fill="#b3b3b3"/>
<path d="M608.0,354.0 616.0,352.0 618.0,362.0 610.0,364.0Z" fill="#b3b3b3"/>
<path d="M640.0,410.0 650.0,408.0 652.0,418.0 642.0,420.0Z" fill="#b3b3b3"/>
<path d="M668.0,434.0 676.0,432.0 678.0,444.0 669.0,446.0Z" fill="#b3b3b3"/>
</g></g>
<g id="keys" fill="#f5b8b8" opacity="0.8"><rect x="1162.2" y="877.0" width="3.0" height="2.2"/><rect x="1178.8" y="878.3" width="4.7" height="1.7"/><rect x="1187.4" y="876.1" width="8.6" height="2.6"/><rect x="1197.1" y="872.2" width="8.6" height="3.0"/><rect x="1206.8" y="867.9" width="6.5" height="3.0"/><rect x="1213.2" y="862.5" width="4.7" height="3.4"/><rect x="1218.2" y="856.1" width="3.0" height="3.9"/><rect x="1179.9" y="827.0" width="3.0" height="6.5"/><rect x="1029.2" y="734.4" width="8.6" height="6.5"/><rect x="1031.8" y="743.1" width="5.2" height="7.8"/></g>
<g id="isles" fill="#b3b3b3"><path d="M1031.1,264.4 1037.1,260.4 1046.2,257.0 1047.2,259.4 1039.1,264.4 1033.1,267.1Z"/><path d="M1140.4,311.8 1151.5,312.2 1152.9,315.0 1147.4,316.6 1141.4,315.8Z"/></g>
<g id="borders" class="bd">
<path d="M324.1,235.6 904.9,235.6 904.9,226.1 914.0,226.1 916.0,240.2 922.1,242.2 932.2,245.3 935.2,247.3 942.3,245.3 950.3,244.9 958.4,247.3 964.5,253.3 972.5,252.3 980.6,257.4 988.7,257.4 996.8,254.4 1001.8,258.4 1012.9,258.4 1026.0,261.8 1012.9,266.5 1000.8,272.5 988.7,281.6 976.6,290.7 965.5,296.7 976.6,294.7 988.7,292.7 996.8,290.1 998.4,295.7 1004.8,298.8 1016.9,294.7 1029.1,291.3 1037.1,286.6 1047.2,280.6 1055.3,275.9 1063.4,275.1 1062.4,278.0 1057.3,280.6 1051.3,285.6 1046.8,291.3 1053.3,290.7 1063.4,292.7 1069.4,298.8 1077.5,301.8 1085.6,299.8 1093.6,296.7 1110.0,295.7 1112.1,294.8 1121.2,294.0 1121.2,300.5 1128.3,303.5 1137.3,304.5 1139.4,310.5 1143.4,315.6 1126.2,314.2 1120.2,316.6 1112.1,314.6 1100.0,315.0 1097.7,314.9 1085.6,318.3 1079.5,321.0 1076.5,328.0 1072.4,334.1 1067.4,340.1 1064.4,341.1 1060.3,347.2 1056.3,352.2 1063.4,347.2 1071.4,340.1 1078.5,333.1 1074.5,342.1 1069.4,352.2 1065.4,362.3 1063.0,374.4 1060.9,386.5 1059.3,395.0 1060.3,400.1 1060.3,410.2 1063.4,418.3 1067.4,427.3 1073.5,427.3 1083.5,423.3 1088.6,416.2 1093.6,408.2 1095.7,400.1 1094.6,390.0 1088.6,376.5 1090.6,364.3 1093.6,352.2 1098.7,342.1 1103.7,337.1 1100.0,342.8 1104.0,339.8 1110.1,334.8 1116.1,328.7 1121.2,320.6 1130.3,323.7 1142.4,327.7 1153.5,332.7 1157.1,338.8 1155.5,346.9 1156.5,354.9 1150.5,363.0 1143.4,369.1 1142.4,375.1 1147.4,378.2 1154.5,369.1 1162.6,365.4 1169.6,369.1 1171.6,381.2 1173.7,393.3 1172.7,396.1 1169.6,401.1 1166.6,403.1 1165.6,408.2 1160.5,411.2 1158.5,418.3 1154.5,423.3 1151.5,426.7 1155.5,429.4 1162.6,432.4 1168.6,433.4 1172.7,435.4 1180.7,433.4 1188.8,432.4 1194.9,428.3 1202.9,424.3 1213.0,420.7 1221.1,417.2 1229.2,413.8 1239.3,408.2 1246.3,403.1 1249.7,399.1 1245.3,391.3 1246.3,386.2 1253.4,384.2 1265.5,383.2 1276.6,388.2 1289.7,385.2 1297.8,380.2 1304.8,375.1 1303.8,367.1 1301.8,364.0 1311.9,357.0 1320.0,346.9 1328.1,341.8 1334.1,340.2 1402.7,339.8 1404.7,333.8 1411.8,330.7 1418.9,327.7 1426.9,316.6 1431.0,305.5 1436.0,294.4 1443.1,285.3 1452.2,275.8 1457.2,280.3 1471.3,277.9 1481.4,284.3 1482.4,298.4 1482.4,318.6 1489.5,326.7 1490.5,334.8 1497.6,338.8 1498.6,346.9 1491.5,349.9 1487.2,350.6 1483.4,352.7 1479.6,355.3 1475.0,356.3 1470.8,357.1 1467.1,359.5 1464.0,357.2 1460.6,354.4 1459.5,359.3 1456.5,362.7 1454.1,366.9 1449.1,367.0 1443.3,371.4 1438.8,375.0 1433.1,375.5 1431.4,380.2 1427.0,383.2 1424.3,386.9 1423.3,391.5 1419.4,395.8 1419.4,396.2 1420.3,401.1 1421.6,404.3 1418.0,406.5 1414.4,409.7 1414.0,412.8 1417.1,413.7 1420.7,416.4 1423.0,420.9 1424.3,425.8 1428.8,427.0 1434.2,426.1 1436.9,424.3 1437.3,421.6 1435.1,418.6 1431.5,417.5 1435.2,419.5 1436.7,422.2 1437.8,424.9 1437.3,428.9 1436.0,430.7 1429.7,428.2 1425.2,428.7 1421.2,427.3 1418.0,429.8 1414.4,432.4 1411.7,433.9 1410.4,430.7 1409.1,427.6 1408.2,429.8 1406.8,433.4 1404.6,435.2 1402.8,435.9 1398.3,437.9 1393.8,437.0 1384.8,437.5 1374.1,438.4 1366.9,440.6 1361.1,442.4 1355.7,444.9 1351.6,444.4 1353.1,447.3 1350.2,453.1 1345.8,458.2 1349.4,458.9 1351.6,463.3 1350.2,472.1 1347.2,479.3 1342.9,486.6 1338.5,493.9 1333.4,499.7 1332.7,495.4 1326.8,493.2 1322.5,488.1 1321.0,480.1 1318.8,477.2 1319.5,482.3 1321.7,489.5 1324.6,498.3 1327.6,505.6 1328.3,511.4 1329.0,517.2 1326.8,524.5 1323.9,530.4 1319.5,536.2 1315.2,542.0 1311.5,547.8 1309.3,549.0 1310.8,542.0 1313.7,533.3 1315.2,527.4 1313.7,524.5 1311.5,517.2 1306.4,515.1 1307.9,510.0 1305.0,502.7 1304.2,493.9 1309.3,486.6 1313.7,482.0 1307.9,485.2 1303.5,488.8 1297.7,491.7 1297.0,498.3 1297.0,505.6 1296.2,512.1 1299.1,515.8 1299.1,521.6 1302.8,521.6 1304.2,528.9 1302.8,534.7 1304.2,542.0 1301.3,550.8 1305.0,552.2 1310.1,553.7 1313.0,562.4 1308.9,563.8 1313.9,572.3 1318.0,580.4 1320.0,587.4 1321.1,592.7 1320.3,598.3 1313.0,602.2 1308.5,604.1 1302.9,611.2 1297.3,614.0 1290.6,612.3 1282.7,612.9 1278.2,618.5 1272.6,624.1 1268.1,629.7 1265.9,633.1 1255.8,634.2 1249.3,640.9 1243.3,648.0 1239.3,654.0 1231.2,661.1 1221.1,669.2 1213.0,675.2 1207.0,681.3 1202.9,689.3 1198.9,699.4 1195.9,707.5 1193.8,713.6 1193.9,717.2 1196.0,725.8 1199.2,738.8 1203.6,753.8 1207.9,766.7 1213.2,781.8 1218.6,799.0 1222.9,814.1 1224.0,824.9 1222.9,837.8 1220.8,850.7 1216.5,859.3 1210.0,864.7 1202.5,864.7 1199.2,859.3 1192.8,848.5 1187.4,837.8 1182.0,827.0 1178.8,820.6 1173.4,814.1 1170.2,803.3 1167.0,792.6 1165.9,786.1 1168.0,773.2 1165.9,762.4 1158.3,752.7 1149.7,743.1 1141.1,737.7 1134.7,735.5 1126.0,737.7 1117.4,739.8 1112.1,744.1 1107.8,737.7 1102.4,730.1 1093.8,724.8 1083.0,722.6 1067.9,723.7 1060.0,728.5 1051.3,726.4 1043.9,725.1 1035.9,724.4 1028.5,726.4 1024.4,728.5 1023.1,730.5 1027.1,731.8 1031.1,732.5 1032.5,737.2 1029.8,741.9 1025.8,746.6 1028.5,751.3 1033.2,755.4 1036.2,758.1 1033.8,762.1 1027.1,764.8 1026.4,761.4 1027.8,757.4 1023.7,754.0 1017.7,750.7 1013.6,749.3 1013.0,752.7 1011.6,758.1 1008.9,760.8 1005.6,756.0 1002.2,754.7 999.5,758.7 996.2,760.8 992.1,756.7 988.1,752.7 984.0,750.0 980.0,747.3 975.3,742.0 956.0,744.1 933.4,740.9 921.7,746.3 918.3,748.5 915.1,751.1 911.1,752.0 909.0,755.5 905.8,758.0 901.8,759.8 899.3,763.3 894.3,763.2 891.6,766.8 886.6,767.0 883.4,771.6 878.4,771.5 874.5,774.3 871.5,777.9 867.6,780.5 865.1,785.5 860.3,788.2 857.3,792.7 857.5,797.8 858.3,803.1 855.5,807.5 855.4,811.8 859.2,815.2 857.9,819.5 859.2,823.5 862.2,826.9 861.1,831.4 863.6,835.9 862.9,841.2 860.3,843.2 855.5,842.7 850.7,841.9 847.5,839.5 843.5,839.7 840.0,838.6 836.3,835.3 831.3,834.5 826.2,833.0 822.3,829.7 822.0,824.1 818.7,820.4 817.3,816.0 815.3,811.9 814.7,806.7 812.1,802.2 809.1,799.5 808.0,795.5 805.5,792.5 804.5,788.6 800.8,786.3 799.3,782.7 796.8,778.9 795.9,774.3 792.8,770.9 789.4,768.6 789.7,764.4 786.1,762.2 785.7,758.3 783.8,753.1 780.1,749.1 776.3,746.9 773.4,743.8 768.4,744.8 764.7,741.3 760.1,743.3 755.9,741.2 749.3,742.7 747.5,746.9 743.5,749.1 741.6,753.5 740.5,758.0 736.6,763.5 733.0,759.9 727.8,759.5 724.8,756.3 721.4,753.8 716.9,753.2 714.9,749.6 710.4,748.9 708.2,745.6 705.5,740.8 704.4,735.4 703.2,730.2 699.7,725.9 696.9,722.8 695.0,718.7 691.8,715.8 688.7,713.6 686.3,710.9 683.4,708.7 680.3,706.8 677.2,701.9 672.3,699.5 666.1,690.2 631.0,690.2 631.0,702.0 570.6,702.0 492.0,671.2 493.0,665.5 442.6,669.2 441.5,664.1 439.5,657.1 434.5,649.0 429.4,642.9 423.4,637.9 417.3,636.9 415.3,633.8 407.2,628.8 399.2,624.8 393.1,619.7 385.0,618.3 374.9,617.7 369.9,614.7 369.9,606.6 366.9,598.5 363.8,593.5 356.8,585.4 350.7,577.3 344.7,570.3 341.6,562.2 344.7,555.1 340.6,551.1 338.6,551.5 332.6,547.4 330.5,539.3 326.5,527.2 319.4,524.2 322.9,521.2 318.4,516.1 312.4,509.1 305.3,499.0 303.3,490.9 302.3,480.8 298.3,472.7 291.2,465.7 289.2,460.6 290.2,454.6 294.2,444.5 297.2,433.4 295.2,427.3 293.2,420.3 289.2,410.2 290.2,404.1 287.4,398.1 288.2,390.0 291.8,386.5 295.2,376.5 298.3,356.3 301.3,328.0 300.3,311.9 300.3,308.8 298.3,306.8 297.2,299.8 300.3,296.7 298.3,292.7 303.7,288.7 296.5,287.8 296.1,283.3 292.5,278.8 291.6,273.4 289.8,267.2 284.9,263.6 283.1,259.1 282.6,251.5 286.7,251.0 297.4,256.4 306.4,257.7 317.2,257.7 318.9,260.9 323.9,256.8 325.2,252.8 319.8,251.9 316.3,249.7 315.4,246.1 318.0,242.9 322.5,241.6 323.9,239.3 323.0,234.9Z"/>
<path d="M445.2,235.6 445.2,306.8 447.6,313.5 M300.3,308.8 310.4,307.8 317.4,309.9 322.9,315.9 324.1,324.0 332.6,327.0 344.7,322.0 357.8,325.0 370.9,322.0 379.0,321.0 391.1,315.9 403.2,313.9 423.4,313.5 447.6,313.5 M447.6,313.5 454.7,319.9 457.7,324.4 452.6,336.1 448.6,346.2 441.5,350.2 440.1,357.3 443.6,360.3 448.0,363.3 446.6,376.5 445.6,420.4 M465.8,235.6 465.8,262.4 469.8,267.9 470.4,271.8 472.6,275.3 476.7,276.6 479.7,280.9 483.4,284.1 486.7,287.9 490.5,290.5 491.7,294.9 496.8,297.0 502.1,297.9 500.4,301.6 501.8,306.0 500.1,309.9 500.3,314.2 497.5,317.8 497.3,325.0 502.3,327.7 505.2,324.5 508.9,321.7 512.6,324.0 512.9,328.2 515.9,330.8 515.0,335.5 518.0,338.1 520.8,340.8 524.0,343.5 526.4,347.1 528.4,350.2 531.6,352.4 531.8,356.7 537.1,353.8 542.4,353.9 547.6,355.0 552.5,352.8 557.7,353.6 562.7,353.0 566.2,347.5 567.6,351.5 570.7,354.9 M294.5,420.4 571.1,420.4 M571.1,341.2 571.1,446.8 760.3,446.8 M571.1,341.2 718.3,341.2 M718.3,235.6 718.3,446.8 M383.0,420.4 383.0,499.6 496.0,600.5 M508.3,420.4 508.3,552.4 508.5,574.3 504.1,577.3 498.1,576.3 493.0,578.3 493.0,586.4 495.0,594.5 496.0,600.5 500.1,608.6 503.1,618.7 506.1,622.7 502.1,628.8 499.1,634.9 497.0,642.9 495.0,650.0 495.0,657.1 499.1,661.1 493.0,665.5 M613.2,446.8 613.2,702.0 M508.3,552.4 916.5,552.4 M760.3,446.8 760.3,552.4 M740.3,552.4 740.3,684.4 666.5,684.4 666.1,690.2 M740.3,565.6 803.4,565.6 804.0,616.3 807.4,618.4 811.4,619.1 814.8,622.1 819.2,622.8 822.7,623.7 825.4,626.6 829.4,626.3 834.3,626.9 839.3,627.8 842.1,632.5 847.5,633.7 851.3,635.6 855.6,634.2 859.2,637.1 863.8,637.2 868.6,637.9 871.6,633.7 874.8,637.6 879.9,638.1 884.6,637.5 888.6,634.4 893.3,633.5 897.7,632.0 905.1,632.8 908.9,632.5 910.5,636.5 913.8,639.3 917.9,640.8 921.8,639.2 925.5,640.0 929.1,641.6 M718.3,316.4 875.7,315.9 M861.5,235.2 863.6,243.3 864.0,255.4 867.6,267.5 870.6,279.6 872.6,295.7 874.7,305.8 875.7,315.9 874.7,319.9 869.6,325.0 872.6,329.0 878.7,333.1 878.7,380.5 875.7,382.5 879.7,390.0 876.7,398.1 872.6,403.1 M718.3,394.0 834.3,393.6 839.3,397.1 845.4,399.6 851.6,398.6 855.6,399.3 859.5,397.6 863.0,399.4 866.2,401.8 872.4,403.9 877.7,408.1 880.1,411.9 880.2,416.4 882.2,419.5 883.0,423.1 884.4,426.5 886.0,430.8 888.6,434.5 889.1,439.6 890.3,444.6 889.8,448.5 890.6,452.6 892.3,456.8 894.7,459.7 897.0,462.5 900.2,465.4 901.4,469.4 905.4,475.3 912.0,476.9 910.3,479.6 907.3,484.2 911.5,488.5 914.7,493.5 918.0,495.2 M760.3,473.2 900.9,472.7 M918.1,494.9 917.0,551.7 918.1,564.2 920.1,596.5 922.1,628.8 922.1,639.9 M878.7,380.5 987.7,380.5 M892.8,456.6 980.6,456.2 983.6,460.6 984.7,463.7 M918.1,564.2 1012.9,564.2 1010.9,572.3 1005.8,577.3 1019.0,577.3 M929.2,640.9 929.2,683.3 938.8,700.0 939.8,708.6 937.7,721.5 935.5,732.3 933.4,740.9 M929.2,656.6 988.7,656.6 M965.5,296.7 965.4,301.1 965.2,305.5 965.0,309.9 960.7,315.2 954.3,317.7 954.5,321.8 951.9,324.8 956.3,329.1 957.7,332.9 955.4,336.6 957.1,340.5 954.6,344.1 957.6,349.1 961.4,352.7 966.8,353.6 972.5,357.4 977.5,359.8 980.3,364.7 983.8,367.2 986.5,370.6 985.4,375.6 987.8,380.5 990.6,386.6 989.7,390.0 989.7,394.1 991.5,398.0 994.8,399.3 996.4,403.5 1002.2,405.4 1006.5,409.2 1009.2,414.0 1011.2,420.2 1010.2,424.6 1007.7,428.3 1004.3,430.3 1000.4,431.6 996.8,433.6 992.8,434.6 991.0,440.3 993.8,445.5 991.4,451.9 988.4,455.0 984.7,456.6 984.7,460.4 983.5,463.9 982.2,470.7 982.6,474.5 984.6,477.8 987.4,480.4 987.0,485.0 990.1,487.3 993.6,491.4 999.2,492.4 1001.8,495.9 1001.0,499.9 1005.1,502.6 1010.9,501.0 1010.8,507.1 1009.0,510.2 1007.1,513.3 1007.3,517.3 1009.3,519.9 1010.4,523.5 1014.1,526.0 1017.3,529.0 1021.2,531.0 1023.2,534.2 1024.8,537.5 1026.5,543.3 1027.2,546.9 1029.4,549.9 1032.6,553.9 1031.1,550.1 1031.5,554.3 1033.9,558.0 1028.2,558.5 1024.7,561.5 1021.2,565.3 1020.4,570.0 1020.4,573.9 1018.3,577.2 1015.8,581.3 1016.2,586.5 1016.1,592.0 1013.4,596.7 1011.8,600.7 1009.3,604.4 1005.7,606.2 1005.2,610.9 1001.5,613.2 1000.2,616.7 999.6,620.7 996.8,623.4 994.2,626.3 993.3,631.1 991.4,635.2 990.9,640.0 989.7,644.9 991.6,648.7 991.1,653.2 992.4,657.0 992.7,661.1 994.5,665.0 993.1,669.2 993.6,673.2 991.0,679.4 993.0,683.2 992.4,687.5 988.4,689.2 987.5,692.9 985.0,695.6 981.1,701.2 981.2,705.5 979.9,709.4 1018.0,709.5 1017.7,715.0 1019.7,720.4 1021.7,726.4 1023.1,730.5 M1004.8,298.8 1012.9,303.8 1033.1,309.9 1051.3,315.9 1059.3,324.0 1063.4,334.1 1064.4,341.1 M1001.8,406.1 1060.3,406.1 M1067.4,427.3 1066.4,494.9 1064.4,500.0 1067.4,505.0 1063.4,513.1 1059.3,519.2 1056.3,525.2 1054.3,531.3 M1085.6,425.9 1100.0,426.7 1151.5,426.3 M1123.8,426.7 1123.8,494.9 M1033.1,553.5 1035.3,550.0 1037.1,546.4 1041.5,546.2 1045.1,548.8 1046.8,544.9 1048.7,541.6 1052.4,541.4 1055.2,538.2 1053.5,531.4 1059.1,527.0 1063.5,526.7 1067.5,527.7 1071.5,529.6 1075.5,531.3 1079.6,529.4 1082.1,525.7 1084.3,528.6 1089.0,528.5 1090.7,525.4 1091.1,521.0 1094.9,524.6 1099.6,524.5 1100.7,520.5 1103.1,517.7 1105.3,514.8 1102.3,518.8 1100.2,523.3 1101.9,518.1 1107.5,513.5 1109.5,508.2 1114.4,506.7 1118.1,504.8 1122.3,505.9 1121.8,499.8 1123.3,494.9 1130.2,496.2 1134.1,500.2 1137.8,504.5 1142.3,507.2 1147.7,506.3 1154.4,508.3 1158.6,505.2 1163.5,505.6 1167.0,510.9 1170.4,515.4 1174.8,513.9 1177.9,509.2 1178.1,505.1 1180.4,501.9 1187.1,499.7 1189.4,495.9 1189.4,492.1 1194.5,488.3 1201.2,486.4 1202.2,481.4 1206.1,478.9 1209.2,472.9 1208.1,467.3 1210.3,462.5 1212.2,456.6 1214.0,455.6 M1214.0,420.7 1214.0,479.8 1317.0,479.8 M1229.2,413.8 1229.2,420.3 1323.0,420.3 1328.1,426.3 1329.1,431.4 1335.1,436.8 1331.1,444.5 1327.0,448.5 1326.0,456.6 1330.1,460.6 1337.1,467.7 1332.1,471.7 1327.0,475.8 1320.0,476.8 1319.5,476.4 1315.5,478.2 M1335.1,436.8 1338.5,440.0 1351.6,444.4 M1033.1,562.2 1055.3,562.6 1055.3,559.8 1110.0,560.2 1148.4,562.2 1241.3,563.0 1308.9,563.8 M1170.6,515.1 1169.6,521.2 1172.7,527.2 1175.7,532.3 1179.7,537.3 1182.7,540.4 1176.7,544.4 1168.6,548.4 1162.6,555.5 1158.5,559.5 1148.4,562.6 M1182.7,540.4 1186.8,545.4 1191.8,546.4 1194.9,543.4 1198.9,545.0 1207.0,541.4 1215.0,540.4 1219.1,535.3 1218.1,530.3 1223.1,524.2 1227.1,519.2 1231.2,510.1 1237.2,513.1 1241.3,509.1 1245.3,505.0 1249.3,502.0 1254.4,498.0 1258.4,489.3 1269.5,496.0 1271.5,491.1 M1234.8,479.8 1234.8,493.9 1242.3,488.9 1249.9,482.8 1262.1,481.4 1271.5,491.1 1270.0,483.7 1274.4,493.9 1280.2,495.4 1284.6,499.7 1289.7,500.5 1288.9,504.8 1284.6,507.8 1280.9,512.9 1283.8,515.8 1288.2,514.3 1294.8,518.7 1299.1,521.6 M1322.5,476.7 1318.1,475.7 1314.4,479.6 1314.4,514.3 1327.1,514.3 M1009.9,604.6 1110.0,604.6 1154.5,604.6 M1189.8,563.8 1188.8,570.3 1180.7,575.3 1170.6,578.3 1162.6,584.4 1152.5,588.4 1142.4,590.5 1135.3,596.5 1134.3,604.2 M1134.3,604.2 1160.5,604.2 1174.7,599.5 1202.9,599.5 1208.0,604.6 1209.0,608.6 1232.2,609.6 1255.4,634.5 M1160.5,604.2 1153.5,611.0 1160.5,617.7 1167.6,626.8 1174.7,634.9 1180.7,642.9 1188.8,652.0 1194.9,661.1 1198.9,671.2 1200.9,681.3 1207.0,681.3 M1053.3,604.6 1052.3,640.9 1049.2,681.3 1047.2,720.0 1047.5,700.0 1047.5,724.8 M1106.1,604.6 1110.1,630.8 1116.1,661.1 1120.2,677.2 1118.2,689.3 1117.2,701.5 1120.2,713.6 1122.2,717.6 1121.7,715.1 1179.9,721.5 1180.9,726.9 1184.2,719.4 1188.5,716.1 1193.9,717.2 M1069.0,722.6 1066.8,717.2 1065.8,709.7 1117.4,709.7 1121.7,715.1 M1364.4,340.2 1363.4,354.9 1362.4,367.1 1364.4,379.2 1367.4,389.3 1368.0,399.7 1364.4,409.4 1362.4,417.5 1362.0,416.4 1361.1,428.0 1361.1,442.4 M1402.7,339.8 1401.7,346.9 1398.7,354.9 1393.6,360.0 1391.6,369.1 1387.6,379.2 1384.6,389.3 1381.5,399.7 M1411.8,330.7 1412.8,350.9 1414.4,371.1 1416.4,387.2 1418.9,395.3 M1366.9,399.8 1408.2,401.6 1411.7,398.5 1416.2,396.7 1419.4,396.2 M1362.0,418.2 1398.3,418.6 1398.3,437.9 M1398.3,418.6 1407.3,418.6 1408.6,423.6 1410.0,427.6 M1345.4,459.9 1349.9,454.1 1356.1,448.2 1365.1,446.3 1375.9,444.2 1383.0,442.7 1388.9,442.0 1384.8,444.4 1380.4,446.9 1388.4,444.9 1397.0,444.7 1390.2,448.2 1378.6,451.8 1366.9,455.1 1353.5,458.1 1345.4,459.9"/>
<path d="M1345.4,460.3 1348.1,455.9 1353.5,450.0 1356.1,446.9 M1418.5,438.1 1422.1,437.0 1426.1,436.6 M1431.5,439.3 1435.1,437.9 1437.8,438.6 M1421.2,433.4 1425.7,432.5 M1405.5,428.9 1408.2,431.6 1411.7,429.8 M1431.5,417.7 1434.2,418.4 1436.4,420.9 M1288.9,524.5 1294.0,528.9 1299.9,533.3 M1291.9,538.4 1297.0,542.7 1302.4,547.1 M1288.2,545.2 1294.0,550.0 1299.9,555.4 M1284.6,512.9 1290.4,518.7 1297.0,523.8 M1307.9,515.8 1311.5,521.6 1313.7,527.4 M1305.0,495.4 1307.2,502.7 M1299.1,491.0 1300.6,501.2 1299.9,510.0 M1312.3,542.0 1316.6,534.7 1320.3,528.2 M1004.6,731.2 1006.9,727.1 1011.0,725.1 1015.7,727.8 1016.7,731.8 1013.6,735.2 1008.3,735.9 1005.2,733.8 1004.6,731.2 M848.5,803.3 854.9,801.2 860.3,807.6 853.9,810.9 M870.0,775.3 876.5,770.0 885.1,771.0 878.6,774.3 M906.6,750.6 909.8,743.1 915.2,742.0 914.1,749.5 M1165.2,787.2 1171.7,790.0 1173.0,795.8 1168.0,794.7 M1176.6,817.3 1180.9,819.5 1182.5,824.9 M1292.8,569.2 1294.5,577.0 1299.5,573.6 1306.3,570.3 1310.2,575.9 1308.5,584.3 1313.5,583.2 M1287.2,591.6 1292.8,592.9 1299.5,589.3 1306.3,592.5 1310.7,589.3 M1286.1,600.6 1292.8,602.8 1299.5,598.3 1303.4,605.0 1297.3,610.1 M1278.2,611.8 1283.8,610.6 1290.6,611.8 M1288.3,544.5 1295.0,550.1 1301.8,553.5 1308.5,552.3 M1297.3,540.0 1301.8,546.7 M1310.7,540.0 1313.0,546.7 M1292.8,573.6 1297.3,575.9 1302.9,572.5 M1290.6,602.8 1297.3,605.0 1301.8,602.8 M981.8,746.3 990.4,753.8 996.9,756.4 M908.6,746.3 912.9,742.0 916.1,748.4 M1053.9,717.2 1055.4,725.4 1058.2,720.5 M1008.7,753.8 1014.1,756.4 1019.5,751.7 M1076.4,317.0 1080.1,321.3 1083.7,318.4 1085.9,324.2 1088.8,319.1" stroke-width="5.2"/>
<path d="M323.0,234.9 326.6,235.8 327.0,239.8 331.1,240.7 332.8,244.3 332.4,251.0 334.6,253.7 335.1,258.2 337.8,260.9 336.0,264.5 334.2,267.2 334.6,272.5 335.5,278.8 333.3,282.4 329.7,284.2 327.0,286.9 322.5,288.9 318.0,286.9 316.7,282.4 315.4,278.8 316.7,273.4 319.8,268.9 322.5,265.4 323.9,262.7 318.9,260.9 318.0,259.1 323.9,256.8 325.2,252.8 319.8,251.9 316.3,249.7 315.4,246.1 318.0,242.9 322.5,241.6 323.9,239.3Z M328.2,520.8 331.9,519.4 336.6,521.4 339.2,524.2 335.6,526.1 336.5,530.3 340.0,536.3 342.8,538.9 340.6,541.2 336.6,539.8 333.2,537.7 330.6,539.0 328.5,536.3 328.7,529.6 328.2,526.9Z M1017.7,729.1 1023.1,728.5 1027.1,731.2 1031.1,732.5 1032.5,736.5 1029.8,740.6 1024.4,741.2 1020.4,739.9 1018.4,735.2Z M1104.8,336.6 1108.5,333.7 1112.9,336.6 1112.9,343.9 1109.9,348.3 1105.6,347.6 1105.3,342.5Z M1054.6,352.7 1058.9,346.8 1066.2,339.5 1073.5,333.0 1078.6,332.3 1079.3,335.2 1075.0,341.0 1069.1,347.6 1061.9,351.9 1056.8,354.8Z M296.5,286.9 303.7,287.8 304.1,290.0 297.9,290.9Z M297.4,294.5 302.8,294.1 303.3,296.7 297.9,297.2Z" fill="#000" stroke-width="2"/>
</g>
<g id="titles" opacity="0.999">
<text class="ti" x="893.4" y="56.9">Oak ambrosia beetle: Earliest date of 2nd gen. end adult</text>
<text class="ti" x="892.5" y="96.8">emergence w/ climate stress exclusion 2026</text>
<text class="su" x="893.1" y="147.5">Maps and modeling 02/10/2026 by Oregon State University IPPC USPEST.ORG and</text>
<text class="su" x="893.1" y="180.6">USDA-APHIS-PPQ; climate data from OSU PRISM Climate Group</text>
</g>
<g id="legend" opacity="0.999">
<text class="lt" x="1543.3" y="336.9">Earliest date</text>
<text class="lt" x="1543.3" y="364.9">of 2nd gen. end</text>
<text class="lt" x="1543.3" y="392.7">adult emergence</text>
<rect x="1543" y="407.1" width="26" height="25.8" fill="#4d4d4d"/>
<text class="lb" x="1578.8" y="426.8">excl.-sev.</text>
<rect x="1543" y="432.6" width="26" height="25.8" fill="#b3b3b3"/>
<text class="lb" x="1578.8" y="452.3">excl.-mod.</text>
<rect x="1543" y="458.0" width="26" height="25.8" fill="#f5cccc"/>
<text class="lb" x="1578.8" y="477.7">Jul-04</text>
<rect x="1543" y="483.5" width="26" height="25.8" fill="#f59999"/>
<text class="lb" x="1578.8" y="503.2">Jul-11</text>
<rect x="1543" y="508.9" width="26" height="25.8" fill="#f56666"/>
<text class="lb" x="1578.8" y="528.6">Jul-18</text>
<rect x="1543" y="534.4" width="26" height="25.8" fill="#f93232"/>
<text class="lb" x="1578.8" y="554.1">Jul-25</text>
<rect x="1543" y="559.9" width="26" height="25.8" fill="#e6b8b0"/>
<text class="lb" x="1578.8" y="579.6">Aug-01</text>
<rect x="1543" y="585.3" width="26" height="25.8" fill="#cc9083"/>
<text class="lb" x="1578.8" y="605.0">Aug-08</text>
<rect x="1543" y="610.8" width="26" height="25.8" fill="#b56a5a"/>
<text class="lb" x="1578.8" y="630.5">Aug-15</text>
<rect x="1543" y="636.2" width="26" height="25.8" fill="#9e4632"/>
<text class="lb" x="1578.8" y="655.9">Aug-22</text>
<rect x="1543" y="661.7" width="26" height="25.8" fill="#7f2010"/>
<text class="lb" x="1578.8" y="681.4">Aug-29</text>
<rect x="1543" y="687.2" width="26" height="25.8" fill="#ffaad4"/>
<text class="lb" x="1578.8" y="706.9">Sep-05</text>
<rect x="1543" y="712.6" width="26" height="25.8" fill="#ff80e0"/>
<text class="lb" x="1578.8" y="732.3">Sep-12</text>
<rect x="1543" y="738.1" width="26" height="25.8" fill="#ff55ee"/>
<text class="lb" x="1578.8" y="757.8">Sep-19</text>
<rect x="1543" y="763.5" width="26" height="25.8" fill="#ff2aff"/>
<text class="lb" x="1578.8" y="783.2">Sep-26</text>
<rect x="1703" y="407.1" width="26" height="25.8" fill="#e1bee7"/>
<text class="lb" x="1738.6" y="426.8">Oct-03</text>
<rect x="1703" y="432.6" width="26" height="25.8" fill="#c994d6"/>
<text class="lb" x="1738.6" y="452.3">Oct-10</text>
<rect x="1703" y="458.0" width="26" height="25.8" fill="#b36fc9"/>
<text class="lb" x="1738.6" y="477.7">Oct-17</text>
<rect x="1703" y="483.5" width="26" height="25.8" fill="#9e48b9"/>
<text class="lb" x="1738.6" y="503.2">Oct-24</text>
<rect x="1703" y="508.9" width="26" height="25.8" fill="#8b22a8"/>
<text class="lb" x="1738.6" y="528.6">Oct-31</text>
<rect x="1703" y="534.4" width="26" height="25.8" fill="#b3ecfc"/>
<text class="lb" x="1738.6" y="554.1">Nov-07</text>
<rect x="1703" y="559.9" width="26" height="25.8" fill="#8ed8f0"/>
<text class="lb" x="1738.6" y="579.6">Nov-14</text>
<rect x="1703" y="585.3" width="26" height="25.8" fill="#5cc0e8"/>
<text class="lb" x="1738.6" y="605.0">Nov-21</text>
<rect x="1703" y="610.8" width="26" height="25.8" fill="#29a8dc"/>
<text class="lb" x="1738.6" y="630.5">Nov-28</text>
<rect x="1703" y="636.2" width="26" height="25.8" fill="#a6c4e8"/>
<text class="lb" x="1738.6" y="655.9">Dec-05</text>
<rect x="1703" y="661.7" width="26" height="25.8" fill="#7b93ea"/>
<text class="lb" x="1738.6" y="681.4">Dec-12</text>
<rect x="1703" y="687.2" width="26" height="25.8" fill="#5560f0"/>
<text class="lb" x="1738.6" y="706.9">Dec-19</text>
<rect x="1703" y="712.6" width="26" height="25.8" fill="#2a2af8"/>
<text class="lb" x="1738.6" y="732.3">Dec-26</text>
</g>
</svg>
</body></html>
